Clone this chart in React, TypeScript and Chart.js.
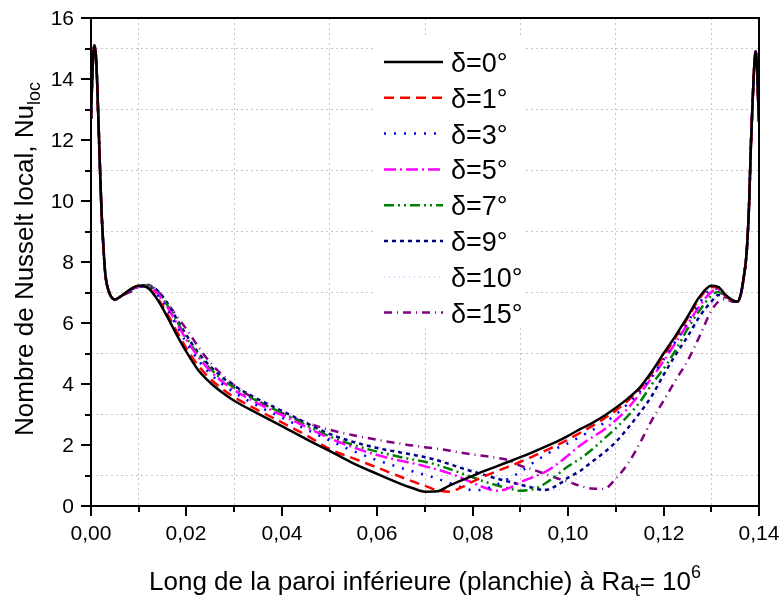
import React, { useEffect, useRef } from 'react';
import { Chart, registerables } from 'chart.js';

Chart.register(...registerables);

// ---- data ----
const xLeft = [0, 0.0003, 0.0007, 0.0011, 0.0015, 0.0019, 0.0022, 0.0026, 0.003, 0.0036, 0.005, 0.0065];
const nuLeft = [12.7, 14.2, 15.1, 14.6, 12.9, 11.0, 9.7, 8.5, 7.6, 7.1, 6.77, 6.9];

const xMid = [0.008, 0.01, 0.012, 0.014, 0.016, 0.018, 0.02, 0.0225, 0.025, 0.0275, 0.03, 0.035, 0.04, 0.045, 0.05, 0.055, 0.06, 0.065, 0.0675, 0.07, 0.0725, 0.075, 0.0775, 0.08, 0.0825, 0.085, 0.0875, 0.09, 0.0925, 0.095, 0.0975, 0.1, 0.1025, 0.105, 0.1075, 0.11, 0.1125, 0.115, 0.1175, 0.12, 0.1225, 0.125, 0.1275, 0.13, 0.1315, 0.133, 0.1345];

const nuD0 = [7.08, 7.22, 7.14, 6.75, 6.2, 5.6, 5.05, 4.45, 4.04, 3.72, 3.45, 3.03, 2.62, 2.2, 1.81, 1.4, 1.05, 0.72, 0.58, 0.47, 0.48, 0.66, 0.83, 0.99, 1.15, 1.3, 1.45, 1.6, 1.76, 1.93, 2.1, 2.3, 2.52, 2.72, 2.95, 3.22, 3.52, 3.88, 4.4, 5.0, 5.58, 6.2, 6.85, 7.22, 7.18, 6.92, 6.74];
const nuD1 = [7.08, 7.22, 7.15, 6.8, 6.3, 5.72, 5.17, 4.6, 4.17, 3.84, 3.57, 3.14, 2.74, 2.33, 1.87, 1.56, 1.26, 0.95, 0.8, 0.66, 0.52, 0.47, 0.6, 0.8, 0.98, 1.14, 1.29, 1.45, 1.62, 1.8, 1.98, 2.18, 2.4, 2.62, 2.86, 3.13, 3.45, 3.84, 4.34, 4.93, 5.52, 6.15, 6.8, 7.18, 7.15, 6.9, 6.72];
const nuD3 = [7.05, 7.2, 7.18, 6.9, 6.45, 5.9, 5.35, 4.78, 4.33, 4.0, 3.72, 3.28, 2.9, 2.52, 2.15, 1.8, 1.5, 1.25, 1.13, 1.02, 0.9, 0.76, 0.62, 0.52, 0.55, 0.7, 0.9, 1.12, 1.4, 1.65, 1.88, 2.06, 2.27, 2.48, 2.72, 3.0, 3.35, 3.75, 4.25, 4.8, 5.4, 6.02, 6.65, 7.1, 7.12, 6.9, 6.73];
const nuD5 = [7.05, 7.2, 7.2, 6.95, 6.52, 5.98, 5.45, 4.88, 4.43, 4.08, 3.8, 3.36, 2.98, 2.6, 2.22, 1.92, 1.67, 1.48, 1.4, 1.3, 1.2, 1.08, 0.93, 0.76, 0.6, 0.5, 0.58, 0.78, 0.94, 1.1, 1.35, 1.66, 1.98, 2.25, 2.5, 2.82, 3.2, 3.68, 4.2, 4.75, 5.35, 5.95, 6.55, 7.02, 7.08, 6.88, 6.73];
const nuD7 = [7.05, 7.2, 7.22, 7.0, 6.58, 6.05, 5.52, 4.95, 4.5, 4.15, 3.88, 3.43, 3.05, 2.66, 2.28, 2.0, 1.78, 1.6, 1.52, 1.45, 1.35, 1.22, 1.08, 0.94, 0.8, 0.68, 0.58, 0.5, 0.55, 0.72, 1.0, 1.3, 1.55, 1.85, 2.2, 2.55, 2.95, 3.4, 3.98, 4.5, 5.1, 5.8, 6.4, 6.9, 7.02, 6.86, 6.73];
const nuD9 = [7.05, 7.2, 7.24, 7.05, 6.65, 6.12, 5.6, 5.02, 4.58, 4.22, 3.94, 3.5, 3.12, 2.73, 2.36, 2.1, 1.9, 1.75, 1.68, 1.6, 1.5, 1.38, 1.25, 1.13, 1.02, 0.9, 0.8, 0.7, 0.6, 0.52, 0.66, 0.93, 1.15, 1.45, 1.75, 2.1, 2.55, 3.05, 3.6, 4.3, 4.95, 5.55, 6.2, 6.7, 6.92, 6.84, 6.73];
const nuD10 = [7.05, 7.2, 7.25, 7.08, 6.7, 6.18, 5.66, 5.08, 4.63, 4.27, 3.98, 3.55, 3.17, 2.78, 2.42, 2.15, 1.95, 1.8, 1.72, 1.65, 1.56, 1.45, 1.33, 1.2, 1.08, 0.96, 0.85, 0.75, 0.65, 0.56, 0.52, 0.7, 0.98, 1.28, 1.6, 1.95, 2.35, 2.82, 3.38, 4.1, 4.75, 5.4, 6.05, 6.6, 6.88, 6.84, 6.73];
const nuD15 = [7.0, 7.18, 7.25, 7.05, 6.65, 6.22, 5.8, 5.22, 4.7, 4.3, 3.96, 3.45, 3.05, 2.74, 2.5, 2.32, 2.17, 2.04, 1.98, 1.93, 1.88, 1.82, 1.75, 1.69, 1.64, 1.58, 1.5, 1.32, 1.2, 1.06, 0.92, 0.8, 0.66, 0.57, 0.56, 0.9, 1.38, 2.05, 2.8, 3.45, 4.12, 4.75, 5.55, 6.4, 6.7, 6.78, 6.7];

const xRight = [0.1355, 0.1362, 0.1368, 0.1374, 0.1379, 0.1383, 0.1387, 0.139, 0.1393, 0.1396, 0.1398, 0.14];
const nuRight = [6.7, 6.95, 7.5, 8.3, 9.8, 11.8, 13.4, 14.4, 14.9, 14.4, 13.4, 12.6];

const seriesLabels = ['δ=0°', 'δ=1°', 'δ=3°', 'δ=5°', 'δ=7°', 'δ=9°', 'δ=10°', 'δ=15°'];
const seriesValues = [nuD0, nuD1, nuD3, nuD5, nuD7, nuD9, nuD10, nuD15];
const seriesColors = ['#000000', '#ff0000', '#0000ff', '#ff00ff', '#008000', '#000080', '#c4c4ff', '#800080'];
const seriesDashes = [[], [10, 6], [2, 8], [12, 4, 2, 4], [10, 4, 2, 4, 2, 4], [4, 4], [1, 4], [8, 5, 1, 5]];
const seriesWidths = [2.5, 2.5, 2.5, 2.5, 2.5, 2.5, 1.5, 2.5];

const xMin = 0, xMax = 0.14, xStep = 0.01;
const yMin = 0, yMax = 16, yStep = 1;

const xTitle = 'Long de la paroi inférieure (planchie) à Ra';
const xTitleSub = 't';
const xTitleTail = '= 10';
const xTitleSup = '6';
const yTitle = 'Nombre de Nusselt local, Nu';
const yTitleSub = 'loc';

const FONT = "'Liberation Sans', Arial, Helvetica, sans-serif";

type Part = { t: string; s: number; dy: number };

function drawRich(ctx: CanvasRenderingContext2D, parts: Part[], cx: number, y: number) {
  let total = 0;
  const widths = parts.map((p) => {
    ctx.font = `${p.s}px ${FONT}`;
    const w = ctx.measureText(p.t).width;
    total += w;
    return w;
  });
  let x = cx - total / 2;
  ctx.textAlign = 'left';
  ctx.textBaseline = 'alphabetic';
  parts.forEach((p, i) => {
    ctx.font = `${p.s}px ${FONT}`;
    ctx.fillText(p.t, x, y + p.dy);
    x += widths[i];
  });
}

const isOddX = (v: number) => Math.round(v / xStep) % 2 !== 0;
const isOddY = (v: number) => Math.round(v / yStep) % 2 !== 0;
const fmtX = (v: number) => v.toFixed(2).replace('.', ',');
const fmtY = (v: number) => String(Math.round(v));

const framePlugin = {
  id: 'frame',
  afterDraw(chart: any) {
    const { ctx, chartArea: a, scales } = chart;
    const xs = scales.x;
    const ys = scales.y;
    ctx.save();
    ctx.strokeStyle = '#000';
    ctx.lineWidth = 2;
    ctx.setLineDash([]);
    ctx.fillStyle = '#000';
    ctx.font = `21px ${FONT}`;
    // ticks + labels
    xs.ticks.forEach((t: any) => {
      const px = Math.round(xs.getPixelForValue(t.value));
      const odd = isOddX(t.value);
      ctx.beginPath();
      ctx.moveTo(px, a.bottom);
      ctx.lineTo(px, a.bottom + (odd ? 6 : 10));
      ctx.stroke();
      if (!odd) {
        ctx.textAlign = 'center';
        ctx.textBaseline = 'alphabetic';
        ctx.fillText(fmtX(t.value), px, a.bottom + 34);
      }
    });
    ys.ticks.forEach((t: any) => {
      const py = Math.round(ys.getPixelForValue(t.value));
      const odd = isOddY(t.value);
      ctx.beginPath();
      ctx.moveTo(a.left, py);
      ctx.lineTo(a.left - (odd ? 6 : 10), py);
      ctx.stroke();
      if (!odd) {
        ctx.textAlign = 'right';
        ctx.textBaseline = 'middle';
        ctx.fillText(fmtY(t.value), a.left - 17, py + 1);
      }
    });
    // frame
    ctx.strokeRect(a.left, a.top, a.right - a.left, a.bottom - a.top);

    // legend
    ctx.fillStyle = '#ffffff';
    ctx.fillRect(376, 38, 150, 288);
    chart.data.datasets.forEach((ds: any, i: number) => {
      const cy = 62 + i * 35.8;
      ctx.save();
      ctx.strokeStyle = ds.borderColor;
      ctx.lineWidth = ds.borderWidth;
      ctx.setLineDash(ds.borderDash || []);
      ctx.beginPath();
      ctx.moveTo(384, cy);
      ctx.lineTo(443, cy);
      ctx.stroke();
      ctx.restore();
      ctx.fillStyle = '#000';
      ctx.font = `27px ${FONT}`;
      ctx.textAlign = 'left';
      ctx.textBaseline = 'alphabetic';
      ctx.fillText(ds.label, 451, cy + 10);
    });

    // axis titles
    ctx.fillStyle = '#000';
    drawRich(
      ctx,
      [
        { t: xTitle, s: 26, dy: 0 },
        { t: xTitleSub, s: 18, dy: 6 },
        { t: xTitleTail, s: 26, dy: 0 },
        { t: xTitleSup, s: 18, dy: -12 },
      ],
      (a.left + a.right) / 2,
      590
    );
    ctx.save();
    ctx.translate(33, 259);
    ctx.rotate(-Math.PI / 2);
    drawRich(
      ctx,
      [
        { t: yTitle, s: 26, dy: 0 },
        { t: yTitleSub, s: 18, dy: 7 },
      ],
      0,
      0
    );
    ctx.restore();
    ctx.restore();
  },
};

function buildData(values: number[]) {
  return [
    ...xLeft.map((x, i) => ({ x, y: nuLeft[i] })),
    ...xMid.map((x, i) => ({ x, y: values[i] })),
    ...xRight.map((x, i) => ({ x, y: nuRight[i] })),
  ];
}

export default function App() {
  const ref = useRef<HTMLCanvasElement>(null);
  useEffect(() => {
    if (!ref.current) return;
    const datasets = seriesLabels.map((label, i) => ({
      label,
      data: buildData(seriesValues[i]),
      borderColor: seriesColors[i],
      backgroundColor: seriesColors[i],
      borderWidth: seriesWidths[i],
      borderDash: seriesDashes[i],
      pointRadius: 0,
      fill: false,
      cubicInterpolationMode: 'monotone' as const,
    }));
    const gridColor = (odd: (v: number) => boolean) => (c: any) =>
      c.tick && odd(c.tick.value) ? '#c6c6c6' : 'rgba(0,0,0,0)';
    const chart = new Chart(ref.current, {
      type: 'line',
      data: { datasets },
      options: {
        responsive: false,
        animation: false,
        devicePixelRatio: 1,
        parsing: false as any,
        layout: { padding: { left: 0, top: 18, right: 23, bottom: 0 } },
        plugins: { legend: { display: false }, tooltip: { enabled: false } },
        scales: {
          x: {
            type: 'linear',
            position: 'bottom',
            min: xMin,
            max: xMax,
            afterFit: (s: any) => {
              s.height = 93;
            },
            grid: { color: gridColor(isOddX), lineWidth: 1, drawTicks: false },
            border: { display: false, dash: [2, 3] },
            ticks: { stepSize: xStep, autoSkip: false, display: false },
          },
          y: {
            type: 'linear',
            position: 'left',
            min: yMin,
            max: yMax,
            afterFit: (s: any) => {
              s.width = 91;
            },
            grid: { color: gridColor(isOddY), lineWidth: 1, drawTicks: false },
            border: { display: false, dash: [2, 3] },
            ticks: { stepSize: yStep, autoSkip: false, display: false },
          },
        },
      },
      plugins: [framePlugin],
    });
    return () => chart.destroy();
  }, []);
  return (
    <div style={{ position: 'fixed', left: 0, top: 0, width: 782, height: 599, background: '#fff' }}>
      <canvas ref={ref} width={782} height={599} style={{ display: 'block', width: 782, height: 599 }} />
    </div>
  );
}
